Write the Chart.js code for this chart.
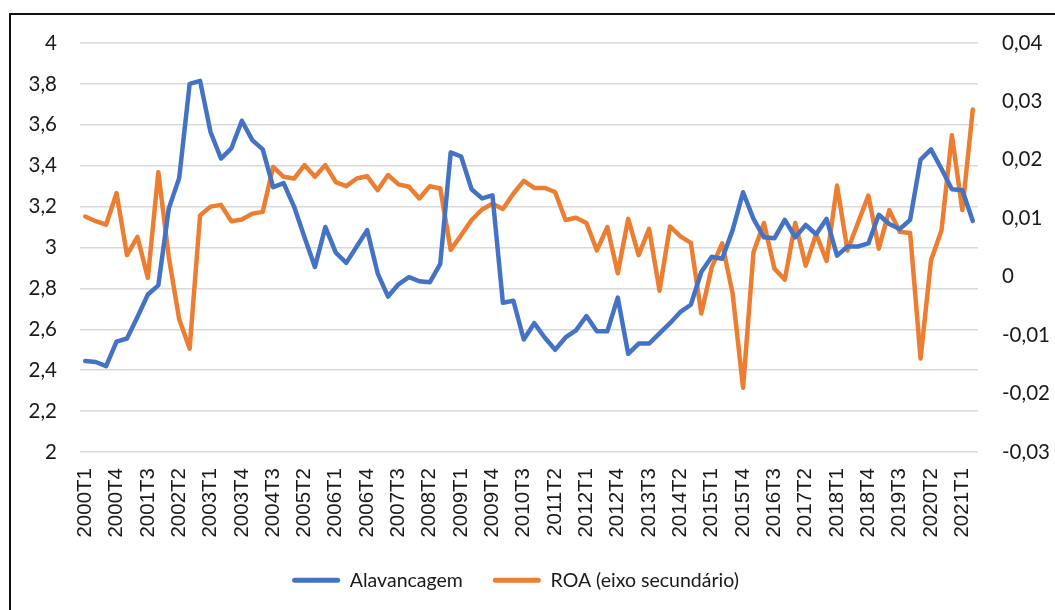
<!DOCTYPE html>
<html>
<head>
<meta charset="utf-8">
<script src="https://cdn.jsdelivr.net/npm/chart.js@4/dist/chart.umd.min.js"></script>
<style>
  html, body { margin: 0; padding: 0; background: #fff; }
  #wrap { position: relative; width: 1055px; height: 610px; overflow: hidden; }
  #frame { position: absolute; left: 9px; top: 13px; width: 1060px; height: 620px; border: 2px solid #111; box-sizing: border-box; pointer-events: none; }
  canvas { position: absolute; left: 0; top: 0; }
</style>
</head>
<body>
<div id="wrap">
  <canvas id="chart" width="1055" height="610"></canvas>
  <div id="frame"></div>
</div>
<script>
// ---- Data ----
const quarters = [
  '2000T1','2000T2','2000T3','2000T4', '2001T1','2001T2','2001T3','2001T4',
  '2002T1','2002T2','2002T3','2002T4', '2003T1','2003T2','2003T3','2003T4',
  '2004T1','2004T2','2004T3','2004T4', '2005T1','2005T2','2005T3','2005T4',
  '2006T1','2006T2','2006T3','2006T4', '2007T1','2007T2','2007T3','2007T4',
  '2008T1','2008T2','2008T3','2008T4', '2009T1','2009T2','2009T3','2009T4',
  '2010T1','2010T2','2010T3','2010T4', '2011T1','2011T2','2011T3','2011T4',
  '2012T1','2012T2','2012T3','2012T4', '2013T1','2013T2','2013T3','2013T4',
  '2014T1','2014T2','2014T3','2014T4', '2015T1','2015T2','2015T3','2015T4',
  '2016T1','2016T2','2016T3','2016T4', '2017T1','2017T2','2017T3','2017T4',
  '2018T1','2018T2','2018T3','2018T4', '2019T1','2019T2','2019T3','2019T4',
  '2020T1','2020T2','2020T3','2020T4', '2021T1','2021T2'
];

const alavancagem = [
  2.445, 2.44, 2.42, 2.54,   2.555, 2.66, 2.77, 2.815,
  3.19, 3.34, 3.80, 3.815,   3.565, 3.435, 3.485, 3.62,
  3.525, 3.48, 3.295, 3.315, 3.20, 3.05, 2.905, 3.10,
  2.975, 2.925, 3.005, 3.085, 2.875, 2.76, 2.82, 2.855,
  2.835, 2.83, 2.92, 3.465,  3.445, 3.285, 3.24, 3.255,
  2.73, 2.74, 2.55, 2.63,    2.56, 2.50, 2.56, 2.595,
  2.665, 2.59, 2.59, 2.755,  2.48, 2.53, 2.53, 2.58,
  2.63, 2.685, 2.72, 2.88,   2.955, 2.945, 3.085, 3.27,
  3.14, 3.05, 3.045, 3.135,  3.05, 3.11, 3.065, 3.14,
  2.96, 3.005, 3.005, 3.02,  3.16, 3.115, 3.09, 3.135,
  3.43, 3.48, 3.385, 3.285,  3.28, 3.13
];

const roa = [
  0.0103, 0.0095, 0.0089, 0.0143,   0.0037, 0.0068, -0.0002, 0.0179,
  0.0034, -0.0073, -0.0123, 0.0105, 0.0120, 0.0123, 0.0095, 0.0098,
  0.0108, 0.0111, 0.0188, 0.0171,   0.0168, 0.0191, 0.0171, 0.0191,
  0.0162, 0.0155, 0.0168, 0.0172,   0.0148, 0.0174, 0.0158, 0.0154,
  0.0134, 0.0155, 0.0151, 0.0046,   0.0071, 0.0097, 0.0115, 0.0125,
  0.0116, 0.0142, 0.0164, 0.0152,   0.0152, 0.0145, 0.0097, 0.0101,
  0.0092, 0.0045, 0.0085, 0.0006,   0.0099, 0.0037, 0.0082, -0.0024,
  0.0086, 0.0069, 0.0058, -0.0063,  0.0016, 0.0057, -0.0029, -0.0190,
  0.0042, 0.0092, 0.0014, -0.0005,  0.0092, 0.0019, 0.0073, 0.0027,
  0.0156, 0.0045, 0.0092, 0.0139,   0.0048, 0.0114, 0.0077, 0.0075,
  -0.0140, 0.0028, 0.0079, 0.0242,  0.0114, 0.0286
];

const leftTicks  = { min: 2, max: 4, step: 0.2 };
const rightTicks = { min: -0.03, max: 0.04, step: 0.01 };

// ---- Helpers ----
const BLUE = '#4472C4';
const ORANGE = '#ED7D31';
const TEXT = '#1a1a1a';

const comma = (v, d) => String(Number(v.toFixed(d))).replace('.', ',');

// nudge the legend a bit to the left, like Excel does
const legendShift = {
  id: 'legendShift',
  afterLayout(chart) {
    chart.legend.left -= 12;
    chart.legend.right -= 12;
  }
};

new Chart(document.getElementById('chart'), {
  type: 'line',
  data: {
    labels: quarters,
    datasets: [
      {
        label: 'Alavancagem', data: alavancagem, yAxisID: 'y',
        borderColor: BLUE, backgroundColor: BLUE, borderWidth: 4.5,
        pointRadius: 0, tension: 0, borderJoinStyle: 'round', borderCapStyle: 'round'
      },
      {
        label: 'ROA (eixo secundário)', data: roa, yAxisID: 'y1',
        borderColor: ORANGE, backgroundColor: ORANGE, borderWidth: 4.5,
        pointRadius: 0, tension: 0, borderJoinStyle: 'round', borderCapStyle: 'round'
      }
    ]
  },
  options: {
    responsive: false, animation: false,
    layout: { padding: { top: 43, left: 0, right: 0, bottom: 10 } },
    plugins: {
      tooltip: { enabled: false },
      legend: {
        position: 'bottom',
        labels: {
          color: TEXT, font: { family: 'Lato', size: 19.5 },
          boxWidth: 48, boxHeight: 5, padding: 30,
          useBorderRadius: true, borderRadius: 2.5,
          generateLabels(chart) {
            return Chart.defaults.plugins.legend.labels.generateLabels(chart)
              .map(l => ({ ...l, lineWidth: 0, fillStyle: l.strokeStyle }));
          }
        }
      }
    },
    scales: {
      x: {
        offset: true,
        grid: { display: false, drawTicks: false },
        border: { display: false },
        ticks: {
          autoSkip: false, minRotation: 90, maxRotation: 90, padding: 16,
          color: TEXT, font: { family: 'Liberation Sans', size: 20.5 },
          callback: (v, i) => (i % 3 === 0 ? quarters[i] : '')
        },
        afterFit: s => { s.height = 88.5; }
      },
      y: {
        position: 'left', min: leftTicks.min, max: leftTicks.max,
        grid: { color: '#d9d9d9', lineWidth: 1.5, drawTicks: false },
        border: { display: false },
        ticks: {
          stepSize: leftTicks.step, padding: 23, color: TEXT,
          font: { family: 'Lato', size: 20.5 },
          callback: v => comma(v, 1)
        },
        afterFit: s => { s.width = 80; }
      },
      y1: {
        position: 'right', min: rightTicks.min, max: rightTicks.max,
        grid: { display: false, drawTicks: false },
        border: { display: false },
        ticks: {
          stepSize: rightTicks.step, padding: 24, color: TEXT,
          font: { family: 'Lato', size: 20.5 },
          callback: v => comma(v, 2)
        },
        afterFit: s => { s.width = 77; }
      }
    }
  },
  plugins: [legendShift]
});
</script>
</body>
</html>
